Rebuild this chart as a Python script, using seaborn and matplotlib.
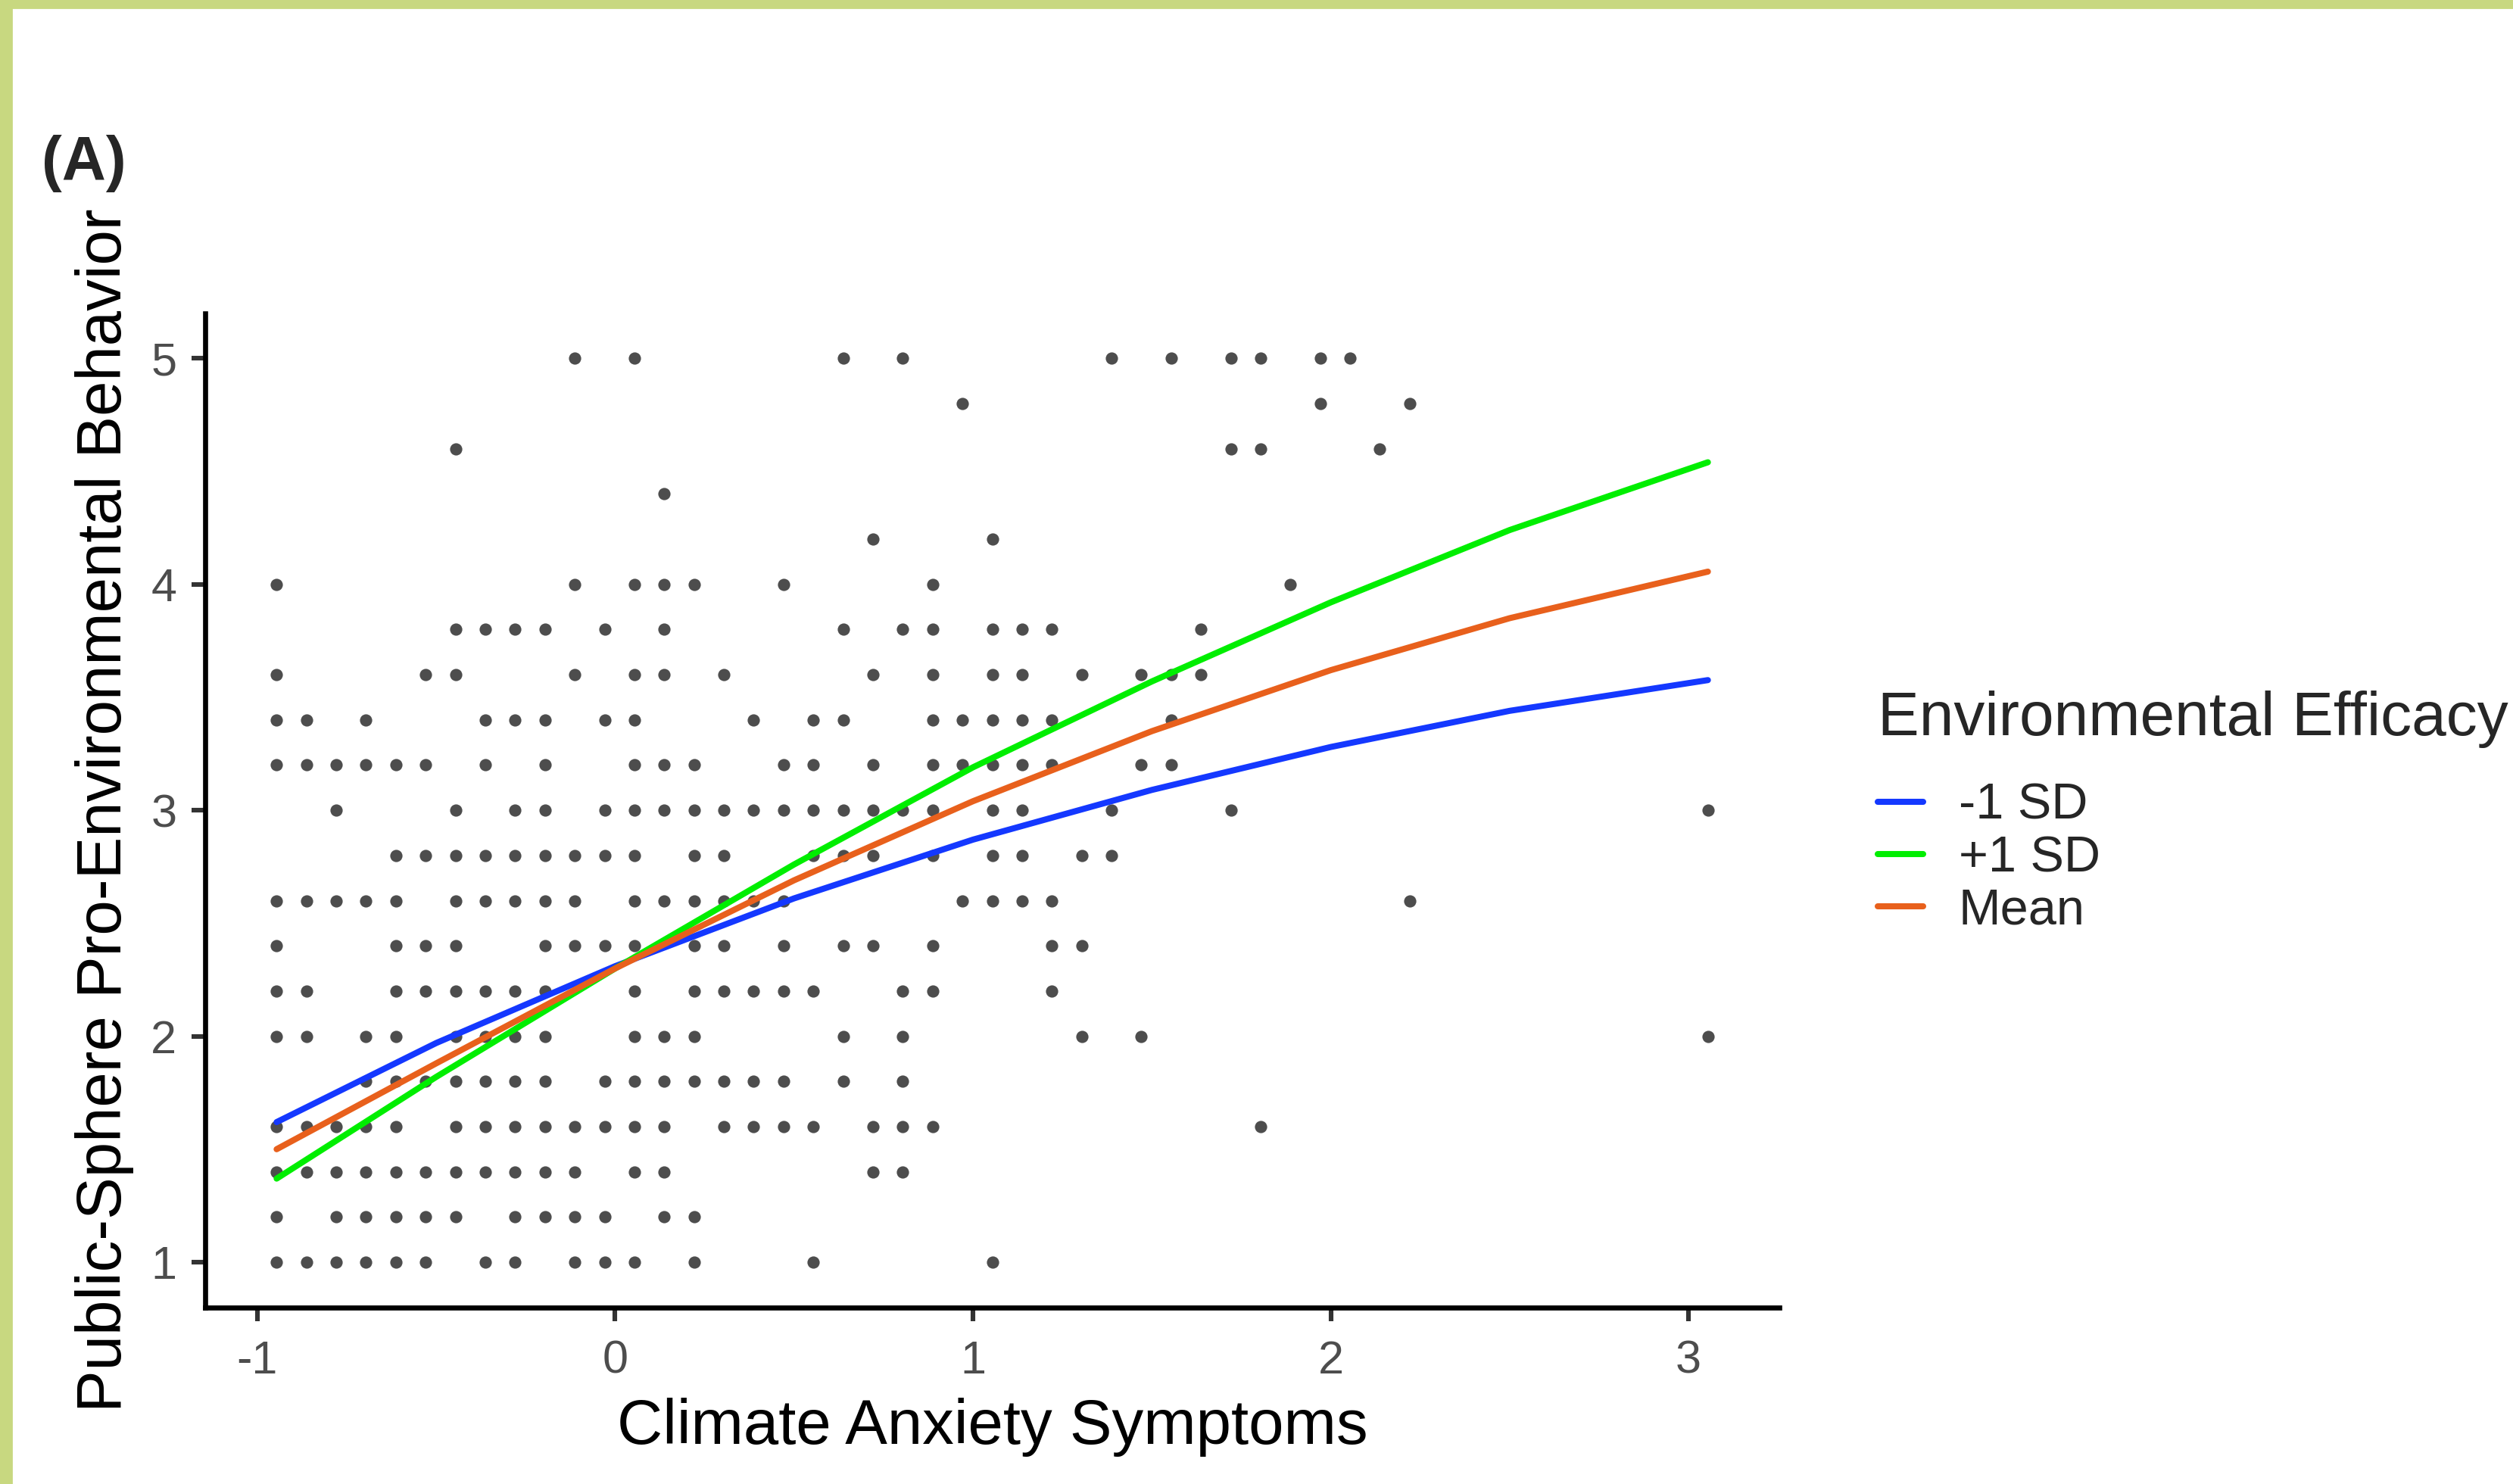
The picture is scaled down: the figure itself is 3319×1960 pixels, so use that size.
import numpy as np
import pandas as pd
import matplotlib
matplotlib.use("Agg")
import matplotlib.pyplot as plt
import seaborn as sns
from matplotlib.patches import Rectangle

# Observed responses: anxiety scores sit on a 1/12 grid (12-item mean), centred on the sample mean.
# Each list holds the grid positions (0 = lowest observed score) seen at one behaviour level.
anx_step = 1 / 12
anx_lowest = -0.946

behav_levels = [5.0, 4.8, 4.6, 4.4, 4.2, 4.0, 3.8, 3.6, 3.4, 3.2, 3.0,
                2.8, 2.6, 2.4, 2.2, 2.0, 1.8, 1.6, 1.4, 1.2, 1.0]
cols_50 = [10, 12, 19, 21, 28, 30, 32, 33, 35, 36]
cols_48 = [23, 35, 38]
cols_46 = [6, 32, 33, 37]
cols_44 = [13]
cols_42 = [20, 24]
cols_40 = [0, 10, 12, 13, 14, 17, 22, 34]
cols_38 = [6, 7, 8, 9, 11, 13, 19, 21, 22, 24, 25, 26, 31]
cols_36 = [0, 5, 6, 10, 12, 13, 15, 20, 22, 24, 25, 27, 29, 30, 31]
cols_34 = [0, 1, 3, 7, 8, 9, 11, 12, 16, 18, 19, 22, 23, 24, 25, 26, 30]
cols_32 = [0, 1, 2, 3, 4, 5, 7, 9, 12, 13, 14, 17, 18, 20, 22, 23, 24, 25, 26, 29, 30]
cols_30 = [2, 6, 8, 9, 11, 12, 13, 14, 15, 16, 17, 18, 19, 20, 21, 22, 24, 25, 28, 32, 48]
cols_28 = [4, 5, 6, 7, 8, 9, 10, 11, 12, 14, 15, 18, 19, 20, 22, 24, 25, 27, 28]
cols_26 = [0, 1, 2, 3, 4, 6, 7, 8, 9, 10, 12, 13, 14, 15, 16, 17, 23, 24, 25, 26, 38]
cols_24 = [0, 4, 5, 6, 9, 10, 11, 12, 14, 15, 17, 19, 20, 22, 26, 27]
cols_22 = [0, 1, 4, 5, 6, 7, 8, 9, 12, 14, 15, 16, 17, 18, 21, 22, 26]
cols_20 = [0, 1, 3, 4, 6, 7, 8, 9, 12, 13, 14, 19, 21, 27, 29, 48]
cols_18 = [3, 4, 5, 6, 7, 8, 9, 11, 12, 13, 14, 15, 16, 17, 19, 21]
cols_16 = [0, 1, 2, 3, 4, 6, 7, 8, 9, 10, 11, 12, 13, 15, 16, 17, 18, 20, 21, 22, 33]
cols_14 = [0, 1, 2, 3, 4, 5, 6, 7, 8, 9, 10, 12, 13, 20, 21]
cols_12 = [0, 2, 3, 4, 5, 6, 8, 9, 10, 11, 13, 14]
cols_10 = [0, 1, 2, 3, 4, 5, 7, 8, 10, 11, 12, 14, 18, 24]

# Predicted values of the moderation model
curve_x = [-0.946, -0.5, 0.0, 0.5, 1.0, 1.5, 2.0, 2.5, 3.054]
pred_low = [1.62, 1.97, 2.31, 2.61, 2.87, 3.09, 3.28, 3.44, 3.576]
pred_high = [1.37, 1.82, 2.30, 2.76, 3.19, 3.57, 3.92, 4.24, 4.54]
pred_mean = [1.50, 1.88, 2.30, 2.69, 3.04, 3.35, 3.62, 3.85, 4.056]
efficacy_levels = ["-1 SD", "+1 SD", "Mean"]
efficacy_colors = {"-1 SD": "#1438FF", "+1 SD": "#00EE00", "Mean": "#E8601C"}

all_cols = [cols_50, cols_48, cols_46, cols_44, cols_42, cols_40, cols_38, cols_36,
            cols_34, cols_32, cols_30, cols_28, cols_26, cols_24, cols_22, cols_20,
            cols_18, cols_16, cols_14, cols_12, cols_10]
rows = []
for level, cols in zip(behav_levels, all_cols):
    for c in cols:
        rows.append({"anxiety": anx_lowest + c * anx_step, "behavior": level})
points = pd.DataFrame(rows)

curves = pd.DataFrame({
    "anxiety": curve_x * 3,
    "behavior": pred_low + pred_high + pred_mean,
    "efficacy": [efficacy_levels[0]] * len(curve_x) + [efficacy_levels[1]] * len(curve_x)
                + [efficacy_levels[2]] * len(curve_x),
})

sns.set_theme(style="white")
plt.rcParams["font.family"] = ["Liberation Sans", "DejaVu Sans"]
plt.rcParams["axes.unicode_minus"] = False

fig = plt.figure(figsize=(16.595, 9.8), dpi=200)
ax = fig.add_axes([0.0816, 0.119, 0.6265, 0.670])

sns.scatterplot(data=points, x="anxiety", y="behavior", color="#4D4D4D",
                s=34, linewidth=0, ax=ax, zorder=2)
sns.lineplot(data=curves, x="anxiety", y="behavior", hue="efficacy",
             hue_order=efficacy_levels, palette=efficacy_colors,
             linewidth=2.9, ax=ax, zorder=3)

handles, labels = ax.get_legend_handles_labels()
ax.get_legend().remove()

ax.set_xlim(-1.146, 3.254)
ax.set_ylim(0.8, 5.2)
ax.set_xticks([-1, 0, 1, 2, 3])
ax.set_yticks([1, 2, 3, 4, 5])
sns.despine(ax=ax)
for side in ["left", "bottom"]:
    ax.spines[side].set_linewidth(2.4)
    ax.spines[side].set_color("black")
ax.tick_params(axis="both", length=6.5, width=2.2, color="#333333",
               labelsize=22, labelcolor="#4D4D4D", pad=7, left=True, bottom=True)
ax.tick_params(axis="x", pad=9)
ax.set_xlabel("Climate Anxiety Symptoms", fontsize=30, color="black", labelpad=7)
ax.set_ylabel("Public-Sphere Pro-Environmental Behavior", fontsize=30,
              color="black", labelpad=8)

fig.text(0.0166, 0.890, "(A)", fontsize=29, fontweight="bold", va="center", ha="left")

fig.text(0.7472, 0.5153, "Environmental Efficacy", fontsize=29.5, va="center", ha="left")
leg = fig.legend(handles, labels, loc="upper left", bbox_to_anchor=(0.7472, 0.4725),
                 bbox_transform=fig.transFigure, frameon=False, fontsize=24,
                 handlelength=0.9, handletextpad=0.7, labelspacing=0.11,
                 borderpad=0, borderaxespad=0)

# frame strips along the top and left edges
fig.patches.append(Rectangle((0, 1 - 10 / 1960), 1, 10 / 1960, transform=fig.transFigure,
                             color="#C8D880", zorder=10))
fig.patches.append(Rectangle((0, 0), 15 / 3319, 1, transform=fig.transFigure,
                             color="#C8D880", zorder=10))

fig.savefig("out.png", dpi=200)
